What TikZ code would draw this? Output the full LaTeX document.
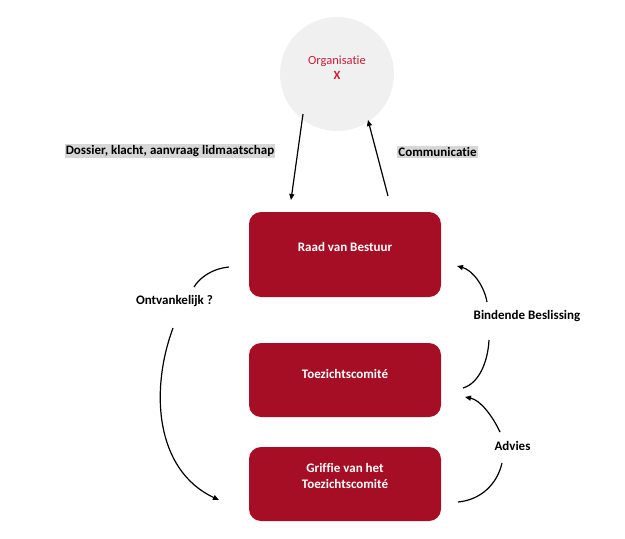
\documentclass[tikz,border=0pt]{standalone}
\usepackage{fontspec}
\setmainfont{Carlito}[Ligatures={NoCommon}]
\usetikzlibrary{arrows.meta}
\definecolor{boxred}{RGB}{165,14,36}
\definecolor{orgred}{RGB}{200,30,55}
\definecolor{circgray}{RGB}{240,240,240}
\definecolor{lblgray}{RGB}{215,215,215}
\tikzset{
  stepbox/.style={draw=none, fill=boxred, rounded corners=12pt, minimum width=192pt, inner sep=0pt},
  boxtext/.style={text=white, font=\fontsize{13}{16}\selectfont\bfseries, align=center, inner sep=0pt},
  lbl/.style={font=\fontsize{13}{15}\selectfont\bfseries, inner sep=1pt},
  graylbl/.style={lbl, fill=lblgray},
  conn/.style={line width=1.2pt, -{Triangle[length=6pt,width=5pt]}},
  connplain/.style={line width=1.2pt},
}
\begin{document}
\begin{tikzpicture}[x=1pt,y=-1pt]
\useasboundingbox (0,0) rectangle (625,539);
% circle
\node[circle, fill=circgray, minimum size=114pt, inner sep=0pt] (org) at (337,74) {};
\node[text=orgred, font=\fontsize{12.5}{15}\selectfont, align=center] (orgt) at (337,67.5) {Organisatie\\\textbf{X}};
% boxes
\node[stepbox, minimum height=85pt] (raad) at (345,254.5) {};
\node[boxtext] (raadt) at (345,247) {Raad van Bestuur};
\node[stepbox, minimum height=74pt] (toez) at (345,380) {};
\node[boxtext] (toezt) at (345,374) {Toezichtscomit\'e};
\node[stepbox, minimum height=74pt] (grif) at (345,484) {};
\node[boxtext] (grift) at (345,476) {Griffie van het\\Toezichtscomit\'e};
% labels
\node[graylbl] (ldos) at (170,151) {Dossier, klacht, aanvraag lidmaatschap};
\node[graylbl] (lcom) at (437.5,152) {Communicatie};
\node[lbl] (lont) at (174.5,301) {Ontvankelijk ?};
\node[lbl] (lbin) at (527,316) {Bindende Beslissing};
\node[lbl] (ladv) at (512.5,446) {Advies};
% main arrows
\coordinate (d1) at (303,114);
\coordinate (d2) at (291,200);
\coordinate (u1) at (388,196);
\coordinate (u2) at (368,120);
\draw[conn] (d1) -- (d2);
\draw[conn] (u1) -- (u2);
% Ontvankelijk
\coordinate (o1) at (229,267);
\coordinate (o2) at (194,287);
\coordinate (o3) at (173,328);
\coordinate (o4) at (219,500);
\draw[connplain] (o1) .. controls (210,269) and (199,279) .. (o2);
\draw[conn] (o3) .. controls (150,390) and (155,470) .. (o4);
% Bindende Beslissing
\coordinate (b1) at (463,388);
\coordinate (b2) at (489,340);
\coordinate (b3) at (487,302);
\coordinate (b4) at (457,266);
\draw[connplain] (b1) .. controls (480,383) and (488,360) .. (b2);
\draw[conn] (b3) .. controls (484,285) and (472,270) .. (b4);
% Advies
\coordinate (a1) at (458,502);
\coordinate (a2) at (502,463);
\coordinate (a3) at (500,432);
\coordinate (a4) at (465,397);
\draw[connplain] (a1) .. controls (480,500) and (497,485) .. (a2);
\draw[conn] (a3) .. controls (492,415) and (480,400) .. (a4);
\end{tikzpicture}
\end{document}
